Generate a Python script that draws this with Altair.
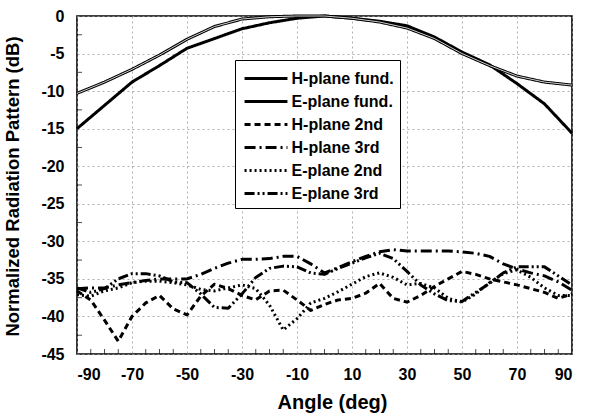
import altair as alt
import pandas as pd

# ---- data ----
angles_fund = [-90, -80, -70, -60, -50, -40, -30, -20, -10, 0, 10, 20, 30, 40, 50, 60, 70, 80, 90]
h_fund = [-10.3, -8.8, -7.1, -5.2, -3.1, -1.4, -0.4, -0.1, 0.0, 0.0, -0.3, -0.8, -1.6, -3.0, -5.0, -6.6, -8.0, -8.8, -9.2]
e_fund = [-15.0, -11.9, -8.8, -6.6, -4.3, -3.0, -1.7, -0.9, -0.3, 0.0, -0.3, -0.7, -1.3, -2.8, -4.8, -6.5, -9.0, -11.7, -15.6]

angles_harm = [-90, -85, -80, -75, -70, -65, -60, -55, -50, -45, -40, -35, -30, -25, -20, -15, -10, -5, 0,
               5, 10, 15, 20, 25, 30, 35, 40, 45, 50, 55, 60, 65, 70, 75, 80, 85, 90]
h_2nd = [-36.6, -37.8, -40.5, -43.3, -40.0, -38.2, -37.2, -39.0, -39.8, -37.3, -35.7, -36.3, -37.2, -37.8, -36.6,
         -36.5, -37.8, -39.2, -38.4, -37.8, -37.6, -36.9, -35.6, -37.6, -38.1, -37.2, -36.0, -35.0, -34.0, -34.4,
         -35.0, -35.4, -35.8, -36.3, -36.8, -37.6, -37.0]
h_3rd = [-36.3, -36.2, -36.2, -35.8, -35.5, -35.2, -35.0, -35.0, -35.0, -34.4, -33.6, -32.9, -32.4, -32.4, -32.3,
         -32.0, -32.0, -33.0, -34.2, -33.5, -32.7, -32.0, -31.4, -31.1, -31.3, -31.3, -31.3, -31.3, -31.4, -31.6,
         -32.0, -33.0, -33.7, -34.2, -34.6, -35.4, -36.5]
e_2nd = [-37.1, -37.3, -36.6, -36.2, -35.5, -35.3, -35.3, -35.5, -35.8, -36.4, -36.6, -36.2, -35.8, -36.3, -38.5,
         -41.8, -40.3, -38.2, -37.6, -36.7, -35.7, -34.7, -34.2, -34.8, -35.8, -35.6, -36.2, -37.6, -38.1, -37.0,
         -35.5, -34.3, -33.8, -34.8, -36.2, -37.2, -37.2]
e_3rd = [-36.2, -36.8, -36.3, -35.0, -34.3, -34.3, -34.6, -35.4, -35.5, -37.0, -38.8, -38.9, -37.0, -34.8, -33.6,
         -33.3, -33.4, -34.2, -34.4, -33.6, -32.9, -32.2, -31.6, -32.3, -34.0, -35.8, -37.0, -37.9, -38.0, -36.8,
         -35.6, -34.2, -33.4, -33.4, -33.4, -34.6, -35.8]

series_names = ["H-plane fund.", "E-plane fund.", "H-plane 2nd", "H-plane 3rd", "E-plane 2nd", "E-plane 3rd"]
dash_styles = [[1, 0], [1, 0], [6, 4], [11, 4, 2, 4], [2, 3], [10, 3, 2, 3, 2, 3]]
widths = [3, 3, 2.2, 2.2, 2.2, 2.2]

x_ticks = [-90, -70, -50, -30, -10, 10, 30, 50, 70, 90]
y_ticks = [0, -5, -10, -15, -20, -25, -30, -35, -40, -45]
x_minor = [-85, -80, -75, -65, -60, -55, -45, -40, -35, -25, -20, -15, -5, 0, 5,
           15, 20, 25, 35, 40, 45, 55, 60, 65, 75, 80, 85]
y_minor = [-2.5, -7.5, -12.5, -17.5, -22.5, -27.5, -32.5, -37.5, -42.5]

rows = []
for a, v in zip(angles_fund, h_fund):
    rows.append({"angle": a, "db": v, "series": series_names[0]})
for a, v in zip(angles_fund, e_fund):
    rows.append({"angle": a, "db": v, "series": series_names[1]})
for name, vals in zip(series_names[2:], [h_2nd, h_3rd, e_2nd, e_3rd]):
    for a, v in zip(angles_harm, vals):
        rows.append({"angle": a, "db": v, "series": name})
df = pd.DataFrame(rows)

x_scale = alt.Scale(domain=[-90, 90], nice=False, zero=False)
y_scale = alt.Scale(domain=[-45, 0], nice=False, zero=False)

x_axis = alt.Axis(values=x_ticks, title="Angle (deg)", labelPadding=12, labelOverlap=False, labelBound=False,
                  labelExpr="'' + datum.value", titleFontSize=20,
                  titleX=255, titleY=48, titleBaseline="middle", titleAlign="center")
y_axis = alt.Axis(values=y_ticks, title="Normalized Radiation Pattern (dB)", labelPadding=13,
                  labelOverlap=False, labelBound=False, labelExpr="'' + datum.value", titleFontSize=18.5,
                  titleX=-65, titleY=170, titleAngle=270, titleBaseline="middle", titleAlign="center")

lines = alt.Chart(df).mark_line(color="black", strokeCap="butt", strokeJoin="round").encode(
    x=alt.X("angle:Q", scale=x_scale, axis=x_axis),
    y=alt.Y("db:Q", scale=y_scale, axis=y_axis),
    detail="series:N",
    strokeDash=alt.StrokeDash(
        "series:N",
        scale=alt.Scale(domain=series_names, range=dash_styles),
        legend=alt.Legend(
            title=None, orient="none", legendX=158, legendY=44,
            symbolType="M-1.95,0H1.95", symbolSize=484, symbolStrokeWidth=2.4,
            symbolOffset=12.5, symbolFillColor="transparent",
            symbolStrokeColor="black", labelFontSize=16, labelFontWeight="bold",
            labelFont="Liberation Sans", labelColor="black", labelOffset=13,
            rowPadding=2, padding=6, strokeColor="black", fillColor="white",
        ),
    ),
    strokeWidth=alt.StrokeWidth("series:N", scale=alt.Scale(domain=series_names, range=widths), legend=None),
)

h_inner = alt.Chart(df[df["series"] == series_names[0]]).mark_line(
    color="#e8e8e8", strokeWidth=0.9).encode(
    x=alt.X("angle:Q", scale=x_scale, axis=x_axis),
    y=alt.Y("db:Q", scale=y_scale, axis=y_axis))

xt = alt.Chart(pd.DataFrame({"angle": x_minor})).mark_tick(
    color="black", orient="vertical", size=5, thickness=1).encode(
    x=alt.X("angle:Q", scale=x_scale, axis=x_axis), y=alt.value(335.5))
yt = alt.Chart(pd.DataFrame({"db": y_minor})).mark_tick(
    color="black", orient="horizontal", size=5, thickness=1).encode(
    y=alt.Y("db:Q", scale=y_scale, axis=y_axis), x=alt.value(2.5))

chart = alt.layer(lines, h_inner, xt, yt).properties(
    width=495, height=338,
    background="white",
    autosize=alt.AutoSizeParams(type="none"),
    padding={"left": 77, "top": 16, "right": 25, "bottom": 61},
).configure_view(
    stroke="black", strokeWidth=1.6
).configure_axis(
    labelFont="Liberation Sans", labelFontWeight="bold", labelFontSize=16, labelColor="black",
    titleFont="Liberation Sans", titleFontWeight="bold", titleColor="black",
    domain=False, ticks=False,
    grid=True, gridColor="#9a9a9a", gridDash=[2, 3], gridWidth=0.8,
)

chart.save("out.html", embed_options={"renderer": "svg", "actions": False})
